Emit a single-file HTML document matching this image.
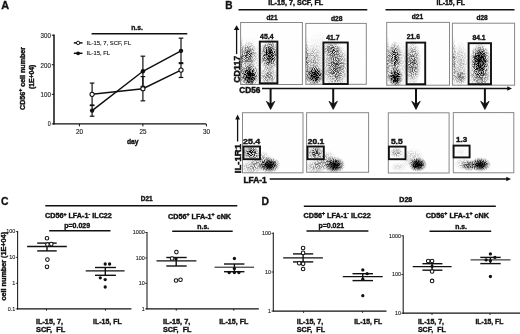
<!DOCTYPE html>
<html><head><meta charset="utf-8"><title>Figure</title>
<style>html,body{margin:0;padding:0;background:#fff;overflow:hidden;} svg{display:block;filter:blur(0.35px);} text{font-family:"Liberation Sans",sans-serif;}</style>
</head><body>
<svg width="520" height="334" viewBox="0 0 520 334" font-family="Liberation Sans, sans-serif"><defs><filter id="sb" x="-50%" y="-50%" width="200%" height="200%"><feGaussianBlur stdDeviation="0.8"/></filter><radialGradient id="rg"><stop offset="0" stop-color="#000" stop-opacity="1"/><stop offset="0.2" stop-color="#000" stop-opacity="0.93"/><stop offset="0.4" stop-color="#000" stop-opacity="0.75"/><stop offset="0.6" stop-color="#000" stop-opacity="0.48"/><stop offset="0.8" stop-color="#000" stop-opacity="0.2"/><stop offset="1" stop-color="#000" stop-opacity="0"/></radialGradient><filter id="spk0" x="0" y="0" width="100%" height="100%" color-interpolation-filters="sRGB"><feTurbulence type="fractalNoise" baseFrequency="1.1" numOctaves="1" seed="3" result="t"/><feColorMatrix in="t" type="matrix" values="0 0 0 0 0  0 0 0 0 0  0 0 0 0 0  1 0 0 0 0" result="u0"/><feComponentTransfer in="u0" result="u"><feFuncA type="table" tableValues="0.000 0.000 0.000 0.000 0.000 0.001 0.002 0.004 0.009 0.020 0.038 0.070 0.119 0.188 0.278 0.384 0.500 0.616 0.722 0.812 0.881 0.930 0.962 0.980 0.991 0.996 0.998 0.999 1.000 1.000 1.000 1.000 1.000"/></feComponentTransfer><feComposite in="SourceGraphic" in2="u" operator="arithmetic" k1="1.7" k2="0.15" k3="0" k4="0" result="d"/><feGaussianBlur in="d" stdDeviation="0.5"/></filter><filter id="spk1" x="0" y="0" width="100%" height="100%" color-interpolation-filters="sRGB"><feTurbulence type="fractalNoise" baseFrequency="1.1" numOctaves="1" seed="10" result="t"/><feColorMatrix in="t" type="matrix" values="0 0 0 0 0  0 0 0 0 0  0 0 0 0 0  1 0 0 0 0" result="u0"/><feComponentTransfer in="u0" result="u"><feFuncA type="table" tableValues="0.000 0.000 0.000 0.000 0.000 0.001 0.002 0.004 0.009 0.020 0.038 0.070 0.119 0.188 0.278 0.384 0.500 0.616 0.722 0.812 0.881 0.930 0.962 0.980 0.991 0.996 0.998 0.999 1.000 1.000 1.000 1.000 1.000"/></feComponentTransfer><feComposite in="SourceGraphic" in2="u" operator="arithmetic" k1="1.7" k2="0.15" k3="0" k4="0" result="d"/><feGaussianBlur in="d" stdDeviation="0.5"/></filter><filter id="spk2" x="0" y="0" width="100%" height="100%" color-interpolation-filters="sRGB"><feTurbulence type="fractalNoise" baseFrequency="1.1" numOctaves="1" seed="17" result="t"/><feColorMatrix in="t" type="matrix" values="0 0 0 0 0  0 0 0 0 0  0 0 0 0 0  1 0 0 0 0" result="u0"/><feComponentTransfer in="u0" result="u"><feFuncA type="table" tableValues="0.000 0.000 0.000 0.000 0.000 0.001 0.002 0.004 0.009 0.020 0.038 0.070 0.119 0.188 0.278 0.384 0.500 0.616 0.722 0.812 0.881 0.930 0.962 0.980 0.991 0.996 0.998 0.999 1.000 1.000 1.000 1.000 1.000"/></feComponentTransfer><feComposite in="SourceGraphic" in2="u" operator="arithmetic" k1="1.7" k2="0.15" k3="0" k4="0" result="d"/><feGaussianBlur in="d" stdDeviation="0.5"/></filter></defs><text transform="translate(1.20,8.90) scale(0.9214,1)" font-weight="bold" fill="#111" stroke="#111" stroke-width="0.35"><tspan x="0.00" y="0.00" font-size="11.80">A</tspan></text>
<line x1="54.00" y1="34.49" x2="54.00" y2="124.60" stroke="#111" stroke-width="1.5"/>
<line x1="53.40" y1="123.90" x2="206.20" y2="123.90" stroke="#111" stroke-width="1.4"/>
<line x1="51.80" y1="123.90" x2="54.00" y2="123.90" stroke="#111" stroke-width="1"/>
<line x1="51.80" y1="94.33" x2="54.00" y2="94.33" stroke="#111" stroke-width="1"/>
<line x1="51.80" y1="64.76" x2="54.00" y2="64.76" stroke="#111" stroke-width="1"/>
<line x1="51.80" y1="35.19" x2="54.00" y2="35.19" stroke="#111" stroke-width="1"/>
<text transform="translate(47.80,126.40) scale(0.7935,1)" font-weight="normal" fill="#222" stroke="#222" stroke-width="0.15"><tspan x="0.00" y="0.00" font-size="6.80">0</tspan></text>
<text transform="translate(40.60,97.00) scale(0.9081,1)" font-weight="normal" fill="#222" stroke="#222" stroke-width="0.15"><tspan x="0.00" y="0.00" font-size="6.80">100</tspan></text>
<text transform="translate(40.60,67.60) scale(0.9081,1)" font-weight="normal" fill="#222" stroke="#222" stroke-width="0.15"><tspan x="0.00" y="0.00" font-size="6.80">200</tspan></text>
<text transform="translate(40.60,38.00) scale(0.9081,1)" font-weight="normal" fill="#222" stroke="#222" stroke-width="0.15"><tspan x="0.00" y="0.00" font-size="6.80">300</tspan></text>
<line x1="79.40" y1="123.90" x2="79.40" y2="126.40" stroke="#111" stroke-width="1"/>
<text transform="translate(75.90,133.60) scale(0.9257,1)" font-weight="normal" fill="#222" stroke="#222" stroke-width="0.15"><tspan x="0.00" y="0.00" font-size="6.80">20</tspan></text>
<line x1="142.90" y1="123.90" x2="142.90" y2="126.40" stroke="#111" stroke-width="1"/>
<text transform="translate(139.40,133.60) scale(0.9257,1)" font-weight="normal" fill="#222" stroke="#222" stroke-width="0.15"><tspan x="0.00" y="0.00" font-size="6.80">25</tspan></text>
<line x1="206.40" y1="123.90" x2="206.40" y2="126.40" stroke="#111" stroke-width="1"/>
<text transform="translate(202.90,133.60) scale(0.9257,1)" font-weight="normal" fill="#222" stroke="#222" stroke-width="0.15"><tspan x="0.00" y="0.00" font-size="6.80">30</tspan></text>
<text transform="translate(126.90,143.80) scale(0.9351,1)" font-weight="bold" fill="#111" stroke="#111" stroke-width="0.38"><tspan x="0.00" y="0.00" font-size="7.20">day</tspan></text>
<text transform="translate(25.40,110.00) rotate(-90) scale(1.0181,1)" font-weight="bold" fill="#111" stroke="#111" stroke-width="0.38"><tspan x="0.00" y="0.00" font-size="7.00">CD56</tspan><tspan x="17.90" y="-2.94" font-size="5.04">+</tspan><tspan x="20.84" y="0.00" font-size="7.00"> cell number</tspan></text>
<text transform="translate(33.80,89.10) rotate(-90) scale(0.9763,1)" font-weight="bold" fill="#111" stroke="#111" stroke-width="0.38"><tspan x="0.00" y="0.00" font-size="7.00">(1E+04)</tspan></text>
<line x1="91.60" y1="33.70" x2="187.30" y2="33.70" stroke="#111" stroke-width="1.6"/>
<text transform="translate(131.20,30.00) scale(0.8819,1)" font-weight="bold" fill="#111" stroke="#111" stroke-width="0.38"><tspan x="0.00" y="0.00" font-size="7.70">n.s.</tspan></text>
<line x1="73.80" y1="42.90" x2="82.50" y2="42.90" stroke="#111" stroke-width="1.5"/>
<circle cx="78.1" cy="42.9" r="1.7" fill="#fff" stroke="#111" stroke-width="1.0"/>
<line x1="73.80" y1="53.30" x2="82.50" y2="53.30" stroke="#111" stroke-width="1.5"/>
<circle cx="78.1" cy="53.3" r="1.9" fill="#111"/>
<text transform="translate(86.60,44.80) scale(1.0902,1)" font-weight="normal" fill="#222" stroke="#222" stroke-width="0.15"><tspan x="0.00" y="0.00" font-size="5.40">IL-15, 7, SCF, FL</tspan></text>
<text transform="translate(86.60,55.10) scale(1.0874,1)" font-weight="normal" fill="#222" stroke="#222" stroke-width="0.15"><tspan x="0.00" y="0.00" font-size="5.40">IL-15, FL</tspan></text>
<line x1="92.10" y1="83.09" x2="92.10" y2="105.57" stroke="#111" stroke-width="1.2"/>
<line x1="89.80" y1="83.09" x2="94.40" y2="83.09" stroke="#111" stroke-width="1.2"/>
<line x1="89.80" y1="105.57" x2="94.40" y2="105.57" stroke="#111" stroke-width="1.2"/>
<line x1="142.90" y1="76.59" x2="142.90" y2="100.84" stroke="#111" stroke-width="1.2"/>
<line x1="140.60" y1="76.59" x2="145.20" y2="76.59" stroke="#111" stroke-width="1.2"/>
<line x1="140.60" y1="100.84" x2="145.20" y2="100.84" stroke="#111" stroke-width="1.2"/>
<line x1="181.00" y1="62.69" x2="181.00" y2="77.48" stroke="#111" stroke-width="1.2"/>
<line x1="178.70" y1="62.69" x2="183.30" y2="62.69" stroke="#111" stroke-width="1.2"/>
<line x1="178.70" y1="77.48" x2="183.30" y2="77.48" stroke="#111" stroke-width="1.2"/>
<line x1="92.10" y1="104.98" x2="92.10" y2="116.21" stroke="#111" stroke-width="1.2"/>
<line x1="89.80" y1="104.98" x2="94.40" y2="104.98" stroke="#111" stroke-width="1.2"/>
<line x1="89.80" y1="116.21" x2="94.40" y2="116.21" stroke="#111" stroke-width="1.2"/>
<line x1="142.90" y1="56.18" x2="142.90" y2="86.35" stroke="#111" stroke-width="1.2"/>
<line x1="140.60" y1="56.18" x2="145.20" y2="56.18" stroke="#111" stroke-width="1.2"/>
<line x1="140.60" y1="86.35" x2="145.20" y2="86.35" stroke="#111" stroke-width="1.2"/>
<line x1="181.00" y1="38.15" x2="181.00" y2="63.58" stroke="#111" stroke-width="1.2"/>
<line x1="178.70" y1="38.15" x2="183.30" y2="38.15" stroke="#111" stroke-width="1.2"/>
<line x1="178.70" y1="63.58" x2="183.30" y2="63.58" stroke="#111" stroke-width="1.2"/>
<polyline points="92.10,94.33 142.90,88.71 181.00,70.08" fill="none" stroke="#111" stroke-width="1.5"/>
<polyline points="92.10,110.59 142.90,71.27 181.00,50.86" fill="none" stroke="#111" stroke-width="1.5"/>
<circle cx="92.10000000000001" cy="94.33000000000001" r="2.1" fill="#fff" stroke="#111" stroke-width="1.1"/>
<circle cx="142.9" cy="88.71170000000001" r="2.1" fill="#fff" stroke="#111" stroke-width="1.1"/>
<circle cx="181.0" cy="70.0826" r="2.1" fill="#fff" stroke="#111" stroke-width="1.1"/>
<circle cx="92.10000000000001" cy="110.5935" r="2.2" fill="#111"/>
<circle cx="142.9" cy="71.2654" r="2.2" fill="#111"/>
<circle cx="181.0" cy="50.8621" r="2.2" fill="#111"/>
<text transform="translate(225.35,8.80) scale(0.8568,1)" font-weight="bold" fill="#111" stroke="#111" stroke-width="0.35"><tspan x="0.00" y="0.00" font-size="11.80">B</tspan></text>
<line x1="238.50" y1="9.70" x2="367.30" y2="9.70" stroke="#111" stroke-width="1.6"/>
<line x1="385.50" y1="9.70" x2="514.50" y2="9.70" stroke="#111" stroke-width="1.6"/>
<text transform="translate(268.15,4.90) scale(0.9861,1)" font-weight="bold" fill="#111" stroke="#111" stroke-width="0.38"><tspan x="0.00" y="0.00" font-size="7.30">IL-15, 7, SCF, FL</tspan></text>
<text transform="translate(436.50,5.00) scale(0.9497,1)" font-weight="bold" fill="#111" stroke="#111" stroke-width="0.38"><tspan x="0.00" y="0.00" font-size="7.30">IL-15, FL</tspan></text>
<clipPath id="c022"><rect x="240.6" y="22.5" width="61.80" height="62.00"/></clipPath>
<rect x="240.6" y="22.5" width="61.80" height="62.00" stroke="#888" stroke-width="1" fill="#fff"/>
<g clip-path="url(#c022)"><g filter="url(#spk0)"><rect x="240.6" y="22.5" width="61.80" height="62.00" fill="#000" fill-opacity="0.004"/>
<ellipse cx="249.5" cy="75.5" rx="9.5" ry="12" fill="url(#rg)" opacity="0.9" transform="rotate(0 249.5 75.5)"/>
<ellipse cx="248.5" cy="55" rx="8.5" ry="14" fill="url(#rg)" opacity="0.5" transform="rotate(0 248.5 55)"/>
<ellipse cx="269.5" cy="55" rx="10" ry="17" fill="url(#rg)" opacity="0.75" transform="rotate(0 269.5 55)"/>
<ellipse cx="268.5" cy="76" rx="9.5" ry="11" fill="url(#rg)" opacity="0.36" transform="rotate(0 268.5 76)"/>
<ellipse cx="241.6" cy="62" rx="2.4" ry="28" fill="url(#rg)" opacity="0.35" transform="rotate(0 241.6 62)"/>
<ellipse cx="250" cy="66" rx="15" ry="30" fill="url(#rg)" opacity="0.12" transform="rotate(0 250 66)"/>
</g>
<ellipse cx="249.5" cy="76.5" rx="6" ry="8" fill="url(#rg)" opacity="0.6" filter="url(#sb)"/>
<ellipse cx="269.5" cy="54" rx="5" ry="9" fill="url(#rg)" opacity="0.35" filter="url(#sb)"/>
</g>
<rect x="259.8" y="41.6" width="17.60" height="41.70" stroke="#111" stroke-width="1.9" fill="none"/>
<clipPath id="c0112"><rect x="242.5" y="112.7" width="60.50" height="60.10"/></clipPath>
<rect x="242.5" y="112.7" width="60.50" height="60.10" stroke="#888" stroke-width="1" fill="#fff"/>
<g clip-path="url(#c0112)"><g filter="url(#spk0)"><rect x="242.5" y="112.7" width="60.50" height="60.10" fill="#000" fill-opacity="0.004"/>
<ellipse cx="251.4" cy="152.8" rx="9" ry="7.5" fill="url(#rg)" opacity="0.7" transform="rotate(0 251.4 152.8)"/>
<ellipse cx="269" cy="164.9" rx="11.5" ry="8.5" fill="url(#rg)" opacity="0.75" transform="rotate(0 269 164.9)"/>
<ellipse cx="260" cy="160.5" rx="12" ry="9" fill="url(#rg)" opacity="0.26" transform="rotate(-30 260 160.5)"/>
<ellipse cx="252" cy="167" rx="12" ry="7.5" fill="url(#rg)" opacity="0.26" transform="rotate(0 252 167)"/>
</g>
<ellipse cx="269.3" cy="165.3" rx="8" ry="6" fill="url(#rg)" opacity="1.0" filter="url(#sb)"/>
</g>
<rect x="243.5" y="146.5" width="16.50" height="12.70" stroke="#111" stroke-width="1.9" fill="none"/>
<clipPath id="c123"><rect x="305.8" y="23.4" width="60.50" height="60.90"/></clipPath>
<rect x="305.8" y="23.4" width="60.50" height="60.90" stroke="#888" stroke-width="1" fill="#fff"/>
<g clip-path="url(#c123)"><g filter="url(#spk1)"><rect x="305.8" y="23.4" width="60.50" height="60.90" fill="#000" fill-opacity="0.004"/>
<ellipse cx="314.6" cy="75.5" rx="10" ry="10.5" fill="url(#rg)" opacity="0.9" transform="rotate(0 314.6 75.5)"/>
<ellipse cx="313" cy="61" rx="9" ry="17" fill="url(#rg)" opacity="0.22" transform="rotate(0 313 61)"/>
<ellipse cx="332" cy="49.5" rx="9.5" ry="8" fill="url(#rg)" opacity="0.45" transform="rotate(0 332 49.5)"/>
<ellipse cx="336" cy="67" rx="13" ry="25" fill="url(#rg)" opacity="0.5" transform="rotate(0 336 67)"/>
<ellipse cx="306.8" cy="62" rx="2.4" ry="26" fill="url(#rg)" opacity="0.32" transform="rotate(0 306.8 62)"/>
<ellipse cx="320" cy="60" rx="18" ry="30" fill="url(#rg)" opacity="0.08" transform="rotate(0 320 60)"/>
</g>
<ellipse cx="314.6" cy="76" rx="6" ry="6.5" fill="url(#rg)" opacity="0.55" filter="url(#sb)"/>
</g>
<rect x="323.4" y="42.5" width="24.40" height="41.50" stroke="#111" stroke-width="1.9" fill="none"/>
<clipPath id="c1112"><rect x="306.6" y="112.7" width="62.00" height="59.60"/></clipPath>
<rect x="306.6" y="112.7" width="62.00" height="59.60" stroke="#888" stroke-width="1" fill="#fff"/>
<g clip-path="url(#c1112)"><g filter="url(#spk1)"><rect x="306.6" y="112.7" width="62.00" height="59.60" fill="#000" fill-opacity="0.004"/>
<ellipse cx="315.6" cy="152.8" rx="9" ry="7.5" fill="url(#rg)" opacity="0.55" transform="rotate(0 315.6 152.8)"/>
<ellipse cx="334.3" cy="164.9" rx="11.5" ry="8.5" fill="url(#rg)" opacity="0.75" transform="rotate(0 334.3 164.9)"/>
<ellipse cx="324" cy="160.5" rx="13" ry="9" fill="url(#rg)" opacity="0.26" transform="rotate(-30 324 160.5)"/>
<ellipse cx="316" cy="167" rx="12" ry="7.5" fill="url(#rg)" opacity="0.26" transform="rotate(0 316 167)"/>
</g>
<ellipse cx="334.6" cy="165.3" rx="8" ry="6" fill="url(#rg)" opacity="1.0" filter="url(#sb)"/>
</g>
<rect x="307.5" y="146.5" width="16.30" height="12.70" stroke="#111" stroke-width="1.9" fill="none"/>
<clipPath id="c222"><rect x="386.7" y="22.4" width="62.80" height="62.80"/></clipPath>
<rect x="386.7" y="22.4" width="62.80" height="62.80" stroke="#888" stroke-width="1" fill="#fff"/>
<g clip-path="url(#c222)"><g filter="url(#spk2)"><rect x="386.7" y="22.4" width="62.80" height="62.80" fill="#000" fill-opacity="0.004"/>
<ellipse cx="394.8" cy="57" rx="7.5" ry="16" fill="url(#rg)" opacity="0.62" transform="rotate(0 394.8 57)"/>
<ellipse cx="395.3" cy="77" rx="8" ry="10.5" fill="url(#rg)" opacity="0.9" transform="rotate(0 395.3 77)"/>
<ellipse cx="412.8" cy="63" rx="8.5" ry="23" fill="url(#rg)" opacity="0.48" transform="rotate(0 412.8 63)"/>
<ellipse cx="388" cy="62" rx="2.4" ry="26" fill="url(#rg)" opacity="0.32" transform="rotate(0 388 62)"/>
<ellipse cx="400" cy="65" rx="14" ry="26" fill="url(#rg)" opacity="0.1" transform="rotate(0 400 65)"/>
</g>
<ellipse cx="395.3" cy="78" rx="5" ry="7" fill="url(#rg)" opacity="0.6" filter="url(#sb)"/>
</g>
<rect x="406.6" y="42.6" width="18.60" height="41.60" stroke="#111" stroke-width="1.9" fill="none"/>
<clipPath id="c2112"><rect x="388.3" y="112.8" width="60.80" height="60.20"/></clipPath>
<rect x="388.3" y="112.8" width="60.80" height="60.20" stroke="#888" stroke-width="1" fill="#fff"/>
<g clip-path="url(#c2112)"><g filter="url(#spk2)"><rect x="388.3" y="112.8" width="60.80" height="60.20" fill="#000" fill-opacity="0.004"/>
<ellipse cx="396.5" cy="152.6" rx="7" ry="6" fill="url(#rg)" opacity="0.3" transform="rotate(0 396.5 152.6)"/>
<ellipse cx="417.6" cy="164.5" rx="9.5" ry="7.5" fill="url(#rg)" opacity="0.8" transform="rotate(0 417.6 164.5)"/>
<ellipse cx="412" cy="158" rx="13" ry="10" fill="url(#rg)" opacity="0.14" transform="rotate(0 412 158)"/>
<ellipse cx="399" cy="167" rx="9" ry="5" fill="url(#rg)" opacity="0.1" transform="rotate(0 399 167)"/>
</g>
<ellipse cx="417.8" cy="164.6" rx="7.5" ry="6" fill="url(#rg)" opacity="1.0" filter="url(#sb)"/>
</g>
<rect x="388.9" y="146.6" width="16.60" height="12.60" stroke="#111" stroke-width="1.9" fill="none"/>
<clipPath id="c323"><rect x="452.4" y="23.2" width="62.20" height="62.00"/></clipPath>
<rect x="452.4" y="23.2" width="62.20" height="62.00" stroke="#888" stroke-width="1" fill="#fff"/>
<g clip-path="url(#c323)"><g filter="url(#spk0)"><rect x="452.4" y="23.2" width="62.20" height="62.00" fill="#000" fill-opacity="0.004"/>
<ellipse cx="480.2" cy="60" rx="10.5" ry="17" fill="url(#rg)" opacity="0.9" transform="rotate(0 480.2 60)"/>
<ellipse cx="480" cy="74" rx="12" ry="16" fill="url(#rg)" opacity="0.5" transform="rotate(0 480 74)"/>
<ellipse cx="460.5" cy="63" rx="8" ry="22" fill="url(#rg)" opacity="0.2" transform="rotate(0 460.5 63)"/>
<ellipse cx="460" cy="77" rx="7.5" ry="9" fill="url(#rg)" opacity="0.36" transform="rotate(0 460 77)"/>
<ellipse cx="454" cy="62" rx="2.4" ry="26" fill="url(#rg)" opacity="0.3" transform="rotate(0 454 62)"/>
</g>
<ellipse cx="480.2" cy="60" rx="6.5" ry="11" fill="url(#rg)" opacity="0.5" filter="url(#sb)"/>
</g>
<rect x="468.6" y="43.2" width="22.40" height="41.00" stroke="#111" stroke-width="1.9" fill="none"/>
<clipPath id="c3112"><rect x="453.3" y="112.6" width="60.50" height="60.20"/></clipPath>
<rect x="453.3" y="112.6" width="60.50" height="60.20" stroke="#888" stroke-width="1" fill="#fff"/>
<g clip-path="url(#c3112)"><g filter="url(#spk0)"><rect x="453.3" y="112.6" width="60.50" height="60.20" fill="#000" fill-opacity="0.004"/>
<ellipse cx="480.3" cy="164.4" rx="11" ry="7.5" fill="url(#rg)" opacity="0.75" transform="rotate(0 480.3 164.4)"/>
<ellipse cx="470" cy="165.5" rx="10" ry="6" fill="url(#rg)" opacity="0.45" transform="rotate(0 470 165.5)"/>
<ellipse cx="463" cy="164" rx="9" ry="7" fill="url(#rg)" opacity="0.15" transform="rotate(0 463 164)"/>
<ellipse cx="461" cy="152" rx="7" ry="5" fill="url(#rg)" opacity="0.05" transform="rotate(0 461 152)"/>
</g>
<ellipse cx="480.5" cy="164.8" rx="8" ry="5" fill="url(#rg)" opacity="1.0" filter="url(#sb)"/>
<ellipse cx="468" cy="165.5" rx="6" ry="3.5" fill="url(#rg)" opacity="0.35" filter="url(#sb)"/>
</g>
<rect x="453.6" y="145.6" width="16.00" height="11.80" stroke="#111" stroke-width="1.9" fill="none"/>
<text transform="translate(260.10,38.80) scale(0.9837,1)" font-weight="bold" fill="#111" stroke="#111" stroke-width="0.38"><tspan x="0.00" y="0.00" font-size="7.00">45.4</tspan></text>
<text transform="translate(326.20,39.60) scale(0.9764,1)" font-weight="bold" fill="#111" stroke="#111" stroke-width="0.38"><tspan x="0.00" y="0.00" font-size="7.00">41.7</tspan></text>
<text transform="translate(406.70,39.40) scale(0.9764,1)" font-weight="bold" fill="#111" stroke="#111" stroke-width="0.38"><tspan x="0.00" y="0.00" font-size="7.00">21.6</tspan></text>
<text transform="translate(472.50,40.40) scale(0.9617,1)" font-weight="bold" fill="#111" stroke="#111" stroke-width="0.38"><tspan x="0.00" y="0.00" font-size="7.00">84.1</tspan></text>
<text transform="translate(266.40,20.00) scale(0.8706,1)" font-weight="bold" fill="#111" stroke="#111" stroke-width="0.38"><tspan x="0.00" y="0.00" font-size="7.40">d21</tspan></text>
<text transform="translate(330.90,21.00) scale(0.9098,1)" font-weight="bold" fill="#111" stroke="#111" stroke-width="0.38"><tspan x="0.00" y="0.00" font-size="7.40">d28</tspan></text>
<text transform="translate(411.70,19.40) scale(0.9019,1)" font-weight="bold" fill="#111" stroke="#111" stroke-width="0.38"><tspan x="0.00" y="0.00" font-size="7.40">d21</tspan></text>
<text transform="translate(476.40,20.30) scale(0.8863,1)" font-weight="bold" fill="#111" stroke="#111" stroke-width="0.38"><tspan x="0.00" y="0.00" font-size="7.40">d28</tspan></text>
<text transform="translate(243.10,143.50) scale(1.2810,1)" font-weight="bold" fill="#111" stroke="#111" stroke-width="0.38"><tspan x="0.00" y="0.00" font-size="6.90">25.4</tspan></text>
<text transform="translate(307.80,143.70) scale(1.2288,1)" font-weight="bold" fill="#111" stroke="#111" stroke-width="0.38"><tspan x="0.00" y="0.00" font-size="6.90">20.1</tspan></text>
<text transform="translate(390.90,143.50) scale(1.2303,1)" font-weight="bold" fill="#111" stroke="#111" stroke-width="0.38"><tspan x="0.00" y="0.00" font-size="6.90">5.5</tspan></text>
<text transform="translate(456.00,142.10) scale(1.1573,1)" font-weight="bold" fill="#111" stroke="#111" stroke-width="0.38"><tspan x="0.00" y="0.00" font-size="6.90">1.3</tspan></text>
<text transform="translate(239.90,82.80) rotate(-90) scale(1.0677,1)" font-weight="bold" fill="#111" stroke="#111" stroke-width="0.45"><tspan x="0.00" y="0.00" font-size="8.30">CD117</tspan></text>
<line x1="236.60" y1="54.10" x2="236.60" y2="29.00" stroke="#111" stroke-width="1.3"/>
<path d="M236.6,25.2 L233.8,30 L239.4,30 Z" fill="#111"/>
<text transform="translate(239.20,92.60) scale(0.9989,1)" font-weight="bold" fill="#111" stroke="#111" stroke-width="0.45"><tspan x="0.00" y="0.00" font-size="8.30">CD56</tspan></text>
<line x1="262.00" y1="88.50" x2="508.00" y2="88.50" stroke="#111" stroke-width="1.5"/>
<path d="M512,88.5 L507.3,86.3 L507.3,90.7 Z" fill="#111"/>
<line x1="270.60" y1="88.50" x2="270.60" y2="104.50" stroke="#111" stroke-width="2.0"/>
<path d="M270.6,109.4 L266.40000000000003,101.3 L270.6,104.2 L274.8,101.3 Z" fill="#111" stroke="#111" stroke-width="0.8" stroke-linejoin="round"/>
<line x1="333.20" y1="88.50" x2="333.20" y2="104.50" stroke="#111" stroke-width="2.0"/>
<path d="M333.2,109.4 L329.0,101.3 L333.2,104.2 L337.4,101.3 Z" fill="#111" stroke="#111" stroke-width="0.8" stroke-linejoin="round"/>
<line x1="416.00" y1="88.50" x2="416.00" y2="104.50" stroke="#111" stroke-width="2.0"/>
<path d="M416.0,109.4 L411.8,101.3 L416.0,104.2 L420.2,101.3 Z" fill="#111" stroke="#111" stroke-width="0.8" stroke-linejoin="round"/>
<line x1="484.90" y1="88.50" x2="484.90" y2="104.50" stroke="#111" stroke-width="2.0"/>
<path d="M484.9,109.4 L480.7,101.3 L484.9,104.2 L489.09999999999997,101.3 Z" fill="#111" stroke="#111" stroke-width="0.8" stroke-linejoin="round"/>
<text transform="translate(240.60,173.20) rotate(-90) scale(1.1591,1)" font-weight="bold" fill="#111" stroke="#111" stroke-width="0.45"><tspan x="0.00" y="0.00" font-size="8.30">IL-1R1</tspan></text>
<line x1="237.60" y1="141.50" x2="237.60" y2="119.00" stroke="#111" stroke-width="1.3"/>
<path d="M237.6,114.6 L235.2,119.5 L240.0,119.5 Z" fill="#111"/>
<text transform="translate(243.40,182.80) scale(1.0149,1)" font-weight="bold" fill="#111" stroke="#111" stroke-width="0.45"><tspan x="0.00" y="0.00" font-size="8.30">LFA-1</tspan></text>
<line x1="269.70" y1="179.00" x2="507.00" y2="179.00" stroke="#111" stroke-width="1.5"/>
<path d="M511,179 L506.3,176.8 L506.3,181.2 Z" fill="#111"/>
<text transform="translate(0.95,204.90) scale(0.8803,1)" font-weight="bold" fill="#111" stroke="#111" stroke-width="0.35"><tspan x="0.00" y="0.00" font-size="11.80">C</tspan></text>
<text transform="translate(261.55,204.60) scale(0.8803,1)" font-weight="bold" fill="#111" stroke="#111" stroke-width="0.35"><tspan x="0.00" y="0.00" font-size="11.80">D</tspan></text>
<text transform="translate(140.80,201.40) scale(0.9982,1)" font-weight="bold" fill="#111" stroke="#111" stroke-width="0.38"><tspan x="0.00" y="0.00" font-size="6.50">D21</tspan></text>
<line x1="45.30" y1="205.80" x2="237.30" y2="205.80" stroke="#111" stroke-width="1.6"/>
<text transform="translate(399.30,202.20) scale(1.0905,1)" font-weight="bold" fill="#111" stroke="#111" stroke-width="0.38"><tspan x="0.00" y="0.00" font-size="6.50">D28</tspan></text>
<line x1="303.80" y1="206.30" x2="495.80" y2="206.30" stroke="#111" stroke-width="1.6"/>
<line x1="17.60" y1="231.10" x2="17.60" y2="309.40" stroke="#222" stroke-width="1.1"/>
<line x1="17.10" y1="308.90" x2="131.40" y2="308.90" stroke="#111" stroke-width="1.3"/>
<line x1="15.80" y1="231.60" x2="17.60" y2="231.60" stroke="#111" stroke-width="0.8"/>
<text x="15.30" y="233.40" font-size="5.4" text-anchor="end" fill="#222" stroke="#222" stroke-width="0.12">100</text>
<line x1="15.80" y1="257.40" x2="17.60" y2="257.40" stroke="#111" stroke-width="0.8"/>
<text x="15.30" y="259.20" font-size="5.4" text-anchor="end" fill="#222" stroke="#222" stroke-width="0.12">10</text>
<line x1="15.80" y1="283.30" x2="17.60" y2="283.30" stroke="#111" stroke-width="0.8"/>
<text x="15.30" y="285.10" font-size="5.4" text-anchor="end" fill="#222" stroke="#222" stroke-width="0.12">1</text>
<line x1="15.80" y1="308.90" x2="17.60" y2="308.90" stroke="#111" stroke-width="0.8"/>
<text x="15.30" y="310.70" font-size="5.4" text-anchor="end" fill="#222" stroke="#222" stroke-width="0.12">0.1</text>
<line x1="46.50" y1="308.90" x2="46.50" y2="310.70" stroke="#111" stroke-width="0.9"/>
<line x1="105.40" y1="308.90" x2="105.40" y2="310.70" stroke="#111" stroke-width="0.9"/>
<text transform="translate(36.00,323.60) scale(0.9703,1)" font-weight="bold" fill="#111" stroke="#111" stroke-width="0.38"><tspan x="0.00" y="0.00" font-size="7.50">IL-15, 7,</tspan></text>
<text transform="translate(36.00,332.20) scale(0.9939,1)" font-weight="bold" fill="#111" stroke="#111" stroke-width="0.38"><tspan x="0.00" y="0.00" font-size="7.50">SCF,&#160;&#160;FL</tspan></text>
<text transform="translate(93.10,323.60) scale(0.9276,1)" font-weight="bold" fill="#111" stroke="#111" stroke-width="0.38"><tspan x="0.00" y="0.00" font-size="7.50">IL-15, FL</tspan></text>
<text transform="translate(45.00,218.40) scale(1.0455,1)" font-weight="bold" fill="#111" stroke="#111" stroke-width="0.38"><tspan x="0.00" y="0.00" font-size="6.90">CD56</tspan><tspan x="17.64" y="-2.90" font-size="4.97">+</tspan><tspan x="20.54" y="0.00" font-size="6.90"> LFA-1</tspan><tspan x="41.63" y="-2.90" font-size="4.97">-</tspan><tspan x="43.28" y="0.00" font-size="6.90"> ILC22</tspan></text>
<text transform="translate(64.20,227.70) scale(1.0008,1)" font-weight="bold" fill="#111" stroke="#111" stroke-width="0.38"><tspan x="0.00" y="0.00" font-size="7.00">p=0.029</tspan></text>
<line x1="49.20" y1="230.80" x2="110.50" y2="230.80" stroke="#111" stroke-width="1.6"/>
<line x1="27.10" y1="246.50" x2="66.80" y2="246.50" stroke="#111" stroke-width="1.3"/>
<line x1="37.20" y1="243.10" x2="56.70" y2="243.10" stroke="#111" stroke-width="1.4"/>
<line x1="37.20" y1="250.90" x2="56.70" y2="250.90" stroke="#111" stroke-width="1.4"/>
<line x1="47.00" y1="243.10" x2="47.00" y2="250.90" stroke="#111" stroke-width="1.4"/>
<circle cx="47" cy="238.2" r="1.8" fill="#fff" stroke="#111" stroke-width="1.05"/>
<circle cx="51.3" cy="244.1" r="1.8" fill="#fff" stroke="#111" stroke-width="1.05"/>
<circle cx="47.4" cy="244.5" r="1.8" fill="#fff" stroke="#111" stroke-width="1.05"/>
<circle cx="47.4" cy="259.6" r="1.8" fill="#fff" stroke="#111" stroke-width="1.05"/>
<circle cx="47" cy="266.8" r="1.8" fill="#fff" stroke="#111" stroke-width="1.05"/>
<line x1="85.70" y1="270.80" x2="124.60" y2="270.80" stroke="#111" stroke-width="1.3"/>
<line x1="95.00" y1="267.50" x2="115.90" y2="267.50" stroke="#111" stroke-width="1.4"/>
<line x1="95.00" y1="275.30" x2="115.90" y2="275.30" stroke="#111" stroke-width="1.4"/>
<line x1="105.30" y1="267.50" x2="105.30" y2="275.30" stroke="#111" stroke-width="1.4"/>
<circle cx="105.2" cy="264" r="1.65" fill="#111"/>
<circle cx="109.6" cy="264" r="1.65" fill="#111"/>
<circle cx="100.3" cy="277.8" r="1.65" fill="#111"/>
<circle cx="105.2" cy="279.6" r="1.65" fill="#111"/>
<circle cx="105.2" cy="287" r="1.65" fill="#111"/>
<text transform="translate(6.10,300.50) rotate(-90) scale(1.0357,1)" font-weight="bold" fill="#111" stroke="#111" stroke-width="0.38"><tspan x="0.00" y="0.00" font-size="7.00">cell number (1E+04)</tspan></text>
<line x1="147.00" y1="232.00" x2="147.00" y2="309.40" stroke="#222" stroke-width="1.1"/>
<line x1="146.50" y1="308.90" x2="258.80" y2="308.90" stroke="#111" stroke-width="1.3"/>
<line x1="145.20" y1="232.50" x2="147.00" y2="232.50" stroke="#111" stroke-width="0.8"/>
<text x="144.70" y="234.30" font-size="5.4" text-anchor="end" fill="#222" stroke="#222" stroke-width="0.12">1000</text>
<line x1="145.20" y1="258.00" x2="147.00" y2="258.00" stroke="#111" stroke-width="0.8"/>
<text x="144.70" y="259.80" font-size="5.4" text-anchor="end" fill="#222" stroke="#222" stroke-width="0.12">100</text>
<line x1="145.20" y1="283.30" x2="147.00" y2="283.30" stroke="#111" stroke-width="0.8"/>
<text x="144.70" y="285.10" font-size="5.4" text-anchor="end" fill="#222" stroke="#222" stroke-width="0.12">10</text>
<line x1="145.20" y1="308.90" x2="147.00" y2="308.90" stroke="#111" stroke-width="0.8"/>
<text x="144.70" y="310.70" font-size="5.4" text-anchor="end" fill="#222" stroke="#222" stroke-width="0.12">1</text>
<line x1="176.25" y1="308.90" x2="176.25" y2="310.70" stroke="#111" stroke-width="0.9"/>
<line x1="233.75" y1="308.90" x2="233.75" y2="310.70" stroke="#111" stroke-width="0.9"/>
<text transform="translate(162.90,323.60) scale(0.9828,1)" font-weight="bold" fill="#111" stroke="#111" stroke-width="0.38"><tspan x="0.00" y="0.00" font-size="7.50">IL-15, 7,</tspan></text>
<text transform="translate(162.90,332.20) scale(0.9703,1)" font-weight="bold" fill="#111" stroke="#111" stroke-width="0.38"><tspan x="0.00" y="0.00" font-size="7.50">SCF,&#160;&#160;FL</tspan></text>
<text transform="translate(219.15,323.60) scale(0.9471,1)" font-weight="bold" fill="#111" stroke="#111" stroke-width="0.38"><tspan x="0.00" y="0.00" font-size="7.50">IL-15, FL</tspan></text>
<text transform="translate(168.00,218.50) scale(1.0474,1)" font-weight="bold" fill="#111" stroke="#111" stroke-width="0.38"><tspan x="0.00" y="0.00" font-size="6.90">CD56</tspan><tspan x="17.64" y="-2.90" font-size="4.97">+</tspan><tspan x="20.54" y="0.00" font-size="6.90"> LFA-1</tspan><tspan x="41.63" y="-2.90" font-size="4.97">+</tspan><tspan x="44.53" y="0.00" font-size="6.90"> cNK</tspan></text>
<text transform="translate(197.30,228.50) scale(0.9867,1)" font-weight="bold" fill="#111" stroke="#111" stroke-width="0.38"><tspan x="0.00" y="0.00" font-size="7.00">n.s.</tspan></text>
<line x1="172.20" y1="231.20" x2="232.70" y2="231.20" stroke="#111" stroke-width="1.6"/>
<line x1="156.50" y1="260.80" x2="196.40" y2="260.80" stroke="#111" stroke-width="1.3"/>
<line x1="166.30" y1="257.50" x2="186.70" y2="257.50" stroke="#111" stroke-width="1.4"/>
<line x1="166.30" y1="266.00" x2="186.70" y2="266.00" stroke="#111" stroke-width="1.4"/>
<line x1="176.20" y1="257.50" x2="176.20" y2="266.00" stroke="#111" stroke-width="1.4"/>
<circle cx="176.4" cy="252.1" r="1.8" fill="#fff" stroke="#111" stroke-width="1.05"/>
<circle cx="172.1" cy="258.5" r="1.8" fill="#fff" stroke="#111" stroke-width="1.05"/>
<circle cx="176" cy="280.5" r="1.8" fill="#fff" stroke="#111" stroke-width="1.05"/>
<circle cx="180.5" cy="279.7" r="1.8" fill="#fff" stroke="#111" stroke-width="1.05"/>
<circle cx="176" cy="258.9" r="1.65" fill="#111"/>
<line x1="214.60" y1="267.20" x2="254.10" y2="267.20" stroke="#111" stroke-width="1.0"/>
<line x1="224.00" y1="264.00" x2="244.40" y2="264.00" stroke="#111" stroke-width="1.4"/>
<line x1="224.00" y1="271.70" x2="244.40" y2="271.70" stroke="#111" stroke-width="1.4"/>
<line x1="234.40" y1="264.00" x2="234.40" y2="271.70" stroke="#111" stroke-width="1.4"/>
<circle cx="234.4" cy="258.5" r="1.65" fill="#111"/>
<circle cx="229.2" cy="272.5" r="1.65" fill="#111"/>
<circle cx="234.4" cy="272.5" r="1.65" fill="#111"/>
<circle cx="238.9" cy="272.5" r="1.65" fill="#111"/>
<circle cx="234.4" cy="268.6" r="1.65" fill="#111"/>
<line x1="273.30" y1="232.50" x2="273.30" y2="311.60" stroke="#222" stroke-width="1.1"/>
<line x1="272.80" y1="311.10" x2="386.50" y2="311.10" stroke="#111" stroke-width="1.3"/>
<line x1="271.50" y1="233.30" x2="273.30" y2="233.30" stroke="#111" stroke-width="0.8"/>
<text x="271.00" y="235.10" font-size="5.4" text-anchor="end" fill="#222" stroke="#222" stroke-width="0.12">100</text>
<line x1="271.50" y1="272.00" x2="273.30" y2="272.00" stroke="#111" stroke-width="0.8"/>
<text x="271.00" y="273.80" font-size="5.4" text-anchor="end" fill="#222" stroke="#222" stroke-width="0.12">10</text>
<line x1="271.50" y1="311.10" x2="273.30" y2="311.10" stroke="#111" stroke-width="0.8"/>
<text x="271.00" y="312.90" font-size="5.4" text-anchor="end" fill="#222" stroke="#222" stroke-width="0.12">1</text>
<line x1="303.60" y1="311.10" x2="303.60" y2="312.90" stroke="#111" stroke-width="0.9"/>
<line x1="362.60" y1="311.10" x2="362.60" y2="312.90" stroke="#111" stroke-width="0.9"/>
<text transform="translate(296.65,323.60) scale(0.9560,1)" font-weight="bold" fill="#111" stroke="#111" stroke-width="0.38"><tspan x="0.00" y="0.00" font-size="7.50">IL-15, 7,</tspan></text>
<text transform="translate(296.65,332.20) scale(0.9618,1)" font-weight="bold" fill="#111" stroke="#111" stroke-width="0.38"><tspan x="0.00" y="0.00" font-size="7.50">SCF,&#160;&#160;FL</tspan></text>
<text transform="translate(354.15,323.60) scale(0.9065,1)" font-weight="bold" fill="#111" stroke="#111" stroke-width="0.38"><tspan x="0.00" y="0.00" font-size="7.50">IL-15, FL</tspan></text>
<text transform="translate(303.50,217.80) scale(1.0518,1)" font-weight="bold" fill="#111" stroke="#111" stroke-width="0.38"><tspan x="0.00" y="0.00" font-size="6.90">CD56</tspan><tspan x="17.64" y="-2.90" font-size="4.97">+</tspan><tspan x="20.54" y="0.00" font-size="6.90"> LFA-1</tspan><tspan x="41.63" y="-2.90" font-size="4.97">-</tspan><tspan x="43.28" y="0.00" font-size="6.90"> ILC22</tspan></text>
<text transform="translate(318.50,227.80) scale(0.9931,1)" font-weight="bold" fill="#111" stroke="#111" stroke-width="0.38"><tspan x="0.00" y="0.00" font-size="7.00">p=0.021</tspan></text>
<line x1="306.50" y1="231.00" x2="368.40" y2="231.00" stroke="#111" stroke-width="1.6"/>
<line x1="283.20" y1="257.80" x2="322.90" y2="257.80" stroke="#111" stroke-width="1.3"/>
<line x1="293.00" y1="253.90" x2="313.20" y2="253.90" stroke="#111" stroke-width="1.4"/>
<line x1="293.00" y1="261.90" x2="313.20" y2="261.90" stroke="#111" stroke-width="1.4"/>
<line x1="303.10" y1="253.90" x2="303.10" y2="261.90" stroke="#111" stroke-width="1.4"/>
<circle cx="303.1" cy="248" r="1.8" fill="#fff" stroke="#111" stroke-width="1.05"/>
<circle cx="303.1" cy="252.9" r="1.8" fill="#fff" stroke="#111" stroke-width="1.05"/>
<circle cx="299.2" cy="263.2" r="1.8" fill="#fff" stroke="#111" stroke-width="1.05"/>
<circle cx="303.1" cy="263.8" r="1.8" fill="#fff" stroke="#111" stroke-width="1.05"/>
<circle cx="303.1" cy="269" r="1.8" fill="#fff" stroke="#111" stroke-width="1.05"/>
<line x1="342.80" y1="276.70" x2="382.70" y2="276.70" stroke="#111" stroke-width="1.3"/>
<line x1="352.50" y1="273.70" x2="373.00" y2="273.70" stroke="#111" stroke-width="1.4"/>
<line x1="352.50" y1="280.60" x2="373.00" y2="280.60" stroke="#111" stroke-width="1.4"/>
<line x1="362.70" y1="273.70" x2="362.70" y2="280.60" stroke="#111" stroke-width="1.4"/>
<circle cx="362.8" cy="269.9" r="1.65" fill="#111"/>
<circle cx="367.1" cy="273.7" r="1.65" fill="#111"/>
<circle cx="362.8" cy="279.2" r="1.65" fill="#111"/>
<circle cx="362.8" cy="295.7" r="1.65" fill="#111"/>
<line x1="403.20" y1="235.30" x2="403.20" y2="313.70" stroke="#222" stroke-width="1.1"/>
<line x1="402.70" y1="313.20" x2="520.00" y2="313.20" stroke="#111" stroke-width="1.3"/>
<line x1="401.40" y1="235.80" x2="403.20" y2="235.80" stroke="#111" stroke-width="0.8"/>
<text x="400.90" y="237.60" font-size="5.4" text-anchor="end" fill="#222" stroke="#222" stroke-width="0.12">1000</text>
<line x1="401.40" y1="274.50" x2="403.20" y2="274.50" stroke="#111" stroke-width="0.8"/>
<text x="400.90" y="276.30" font-size="5.4" text-anchor="end" fill="#222" stroke="#222" stroke-width="0.12">100</text>
<line x1="401.40" y1="313.20" x2="403.20" y2="313.20" stroke="#111" stroke-width="0.8"/>
<text x="400.90" y="315.00" font-size="5.4" text-anchor="end" fill="#222" stroke="#222" stroke-width="0.12">10</text>
<line x1="432.00" y1="313.20" x2="432.00" y2="315.00" stroke="#111" stroke-width="0.9"/>
<line x1="490.00" y1="313.20" x2="490.00" y2="315.00" stroke="#111" stroke-width="0.9"/>
<text transform="translate(417.90,323.60) scale(0.9381,1)" font-weight="bold" fill="#111" stroke="#111" stroke-width="0.38"><tspan x="0.00" y="0.00" font-size="7.50">IL-15, 7,</tspan></text>
<text transform="translate(417.90,332.20) scale(0.9449,1)" font-weight="bold" fill="#111" stroke="#111" stroke-width="0.38"><tspan x="0.00" y="0.00" font-size="7.50">SCF,&#160;&#160;FL</tspan></text>
<text transform="translate(475.40,323.60) scale(0.9065,1)" font-weight="bold" fill="#111" stroke="#111" stroke-width="0.38"><tspan x="0.00" y="0.00" font-size="7.50">IL-15, FL</tspan></text>
<text transform="translate(425.80,217.80) scale(1.0507,1)" font-weight="bold" fill="#111" stroke="#111" stroke-width="0.38"><tspan x="0.00" y="0.00" font-size="6.90">CD56</tspan><tspan x="17.64" y="-2.90" font-size="4.97">+</tspan><tspan x="20.54" y="0.00" font-size="6.90"> LFA-1</tspan><tspan x="41.63" y="-2.90" font-size="4.97">+</tspan><tspan x="44.53" y="0.00" font-size="6.90"> cNK</tspan></text>
<text transform="translate(455.30,228.50) scale(0.9701,1)" font-weight="bold" fill="#111" stroke="#111" stroke-width="0.38"><tspan x="0.00" y="0.00" font-size="7.00">n.s.</tspan></text>
<line x1="429.50" y1="231.20" x2="491.20" y2="231.20" stroke="#111" stroke-width="1.6"/>
<line x1="412.70" y1="266.70" x2="451.60" y2="266.70" stroke="#111" stroke-width="1.3"/>
<line x1="422.40" y1="263.70" x2="442.40" y2="263.70" stroke="#111" stroke-width="1.4"/>
<line x1="422.40" y1="270.20" x2="442.40" y2="270.20" stroke="#111" stroke-width="1.4"/>
<line x1="432.10" y1="263.70" x2="432.10" y2="270.20" stroke="#111" stroke-width="1.4"/>
<circle cx="428.2" cy="261" r="1.8" fill="#fff" stroke="#111" stroke-width="1.05"/>
<circle cx="432.1" cy="261" r="1.8" fill="#fff" stroke="#111" stroke-width="1.05"/>
<circle cx="432.1" cy="271.5" r="1.8" fill="#fff" stroke="#111" stroke-width="1.05"/>
<circle cx="432.1" cy="280.9" r="1.8" fill="#fff" stroke="#111" stroke-width="1.05"/>
<circle cx="432.1" cy="266.3" r="1.65" fill="#111"/>
<line x1="470.60" y1="259.90" x2="510.50" y2="259.90" stroke="#111" stroke-width="1.0"/>
<line x1="480.30" y1="257.40" x2="500.70" y2="257.40" stroke="#111" stroke-width="1.4"/>
<line x1="480.30" y1="263.60" x2="500.70" y2="263.60" stroke="#111" stroke-width="1.4"/>
<line x1="490.40" y1="257.40" x2="490.40" y2="263.60" stroke="#111" stroke-width="1.4"/>
<circle cx="490.4" cy="253.9" r="1.65" fill="#111"/>
<circle cx="494.9" cy="257.4" r="1.65" fill="#111"/>
<circle cx="486.1" cy="259.9" r="1.65" fill="#111"/>
<circle cx="490.4" cy="260.7" r="1.65" fill="#111"/>
<circle cx="490.4" cy="276.5" r="1.65" fill="#111"/></svg>
</body></html>
